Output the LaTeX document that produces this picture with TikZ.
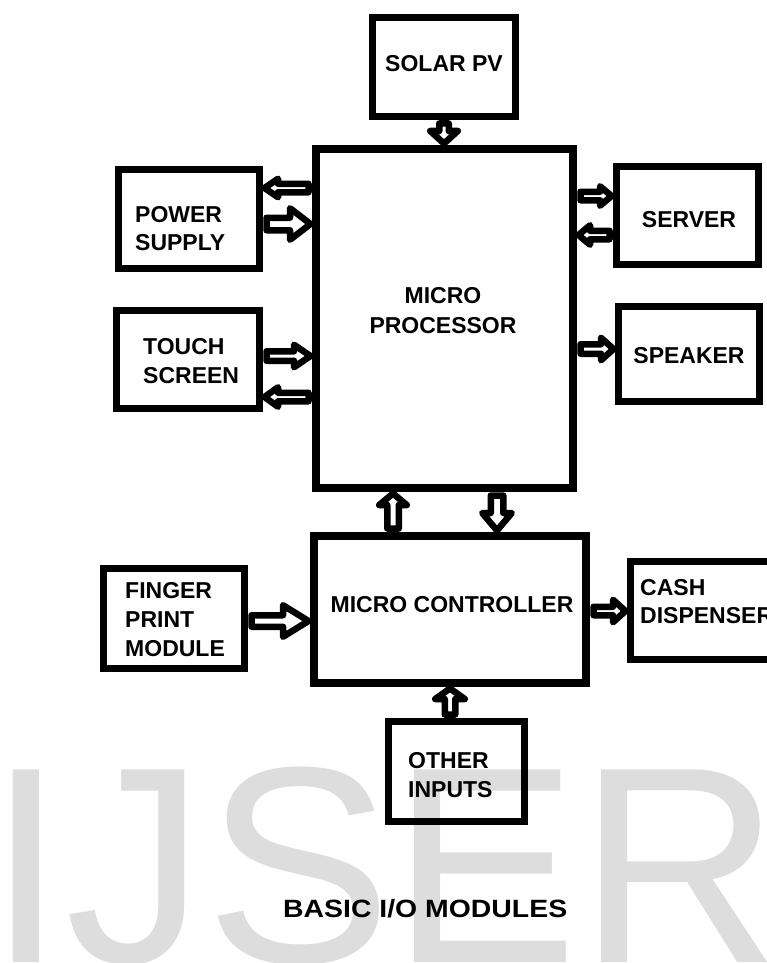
\documentclass[tikz,border=0pt]{standalone}
\usepackage{fontspec}
\setmainfont{Liberation Sans}
\usetikzlibrary{calc}
\definecolor{wm}{RGB}{221,221,221}
\tikzset{
  box/.style={draw=black, line width=7pt, inner sep=0pt},
  bigbox/.style={box, line width=8pt},
  lbl/.style={inner sep=0pt, font=\fontsize{23}{28}\selectfont\bfseries},
  blk/.style={draw=black, fill=white, line width=6.5pt, line join=round},
}
\newcommand\barrow[5]{%
  \draw[blk] let \p1=(#1), \p2=(#2),
    \n1={atan2(\y2-\y1,\x2-\x1)}, \n2={veclen(\x2-\x1,\y2-\y1)} in
    {[shift={(\p1)}, rotate=\n1]
      (3.5,{#3/2-3.25}) -- ({\n2-#5},{#3/2-3.25}) -- ({\n2-#5},{#4/2-3.25}) -- ({\n2-1.5},0)
      -- ({\n2-#5},{-(#4/2-3.25)}) -- ({\n2-#5},{-(#3/2-3.25)}) -- (3.5,{-(#3/2-3.25)}) -- cycle};}
\begin{document}
\begin{tikzpicture}[x=1pt, y=-1pt]
\useasboundingbox (0,0) rectangle (767,963);
\clip (0,0) rectangle (767,963);
\fill[white] (0,0) rectangle (767,963);
% watermark
\node[anchor=base west, inner sep=0pt, text=wm] (wmark) at (-13,962)
  {\fontsize{280}{280}\selectfont IJSER};
% boxes
\node[box, minimum width=143pt, minimum height=99pt] (solar) at (444,67) {};
\node[bigbox, minimum width=257pt, minimum height=339pt] (mp) at (444.5,318.5) {};
\node[box, minimum width=141pt, minimum height=99pt] (ps) at (189,219) {};
\node[box, minimum width=143pt, minimum height=98pt] (ts) at (188,359.5) {};
\node[box, minimum width=142pt, minimum height=98pt] (sv) at (687.5,215.5) {};
\node[box, minimum width=141pt, minimum height=95pt] (sp) at (689,354) {};
\node[bigbox, minimum width=272pt, minimum height=147pt] (mc) at (450,609.5) {};
\node[box, minimum width=141pt, minimum height=100pt] (fp) at (174,618.5) {};
\node[box, minimum width=141pt, minimum height=98pt] (cd) at (701,610.5) {};
\node[box, minimum width=136pt, minimum height=100pt] (oi) at (456.5,771.5) {};
% labels
\node[lbl, anchor=base] (tsolar) at (444,72) {SOLAR PV};
\node[lbl, anchor=base] (tmp1) at (443,303) {MICRO};
\node[lbl, anchor=base] (tmp2) at (443,333) {PROCESSOR};
\node[lbl, anchor=base west] (tps1) at (135,222) {POWER};
\node[lbl, anchor=base west] (tps2) at (135,250) {SUPPLY};
\node[lbl, anchor=base west] (tts1) at (143,354) {TOUCH};
\node[lbl, anchor=base west] (tts2) at (143,383) {SCREEN};
\node[lbl, anchor=base] (tsv) at (689,227) {SERVER};
\node[lbl, anchor=base] (tsp) at (689,363) {SPEAKER};
\node[lbl, anchor=base] (tmc) at (452,612) {MICRO CONTROLLER};
\node[lbl, anchor=base west] (tfp1) at (125,598) {FINGER};
\node[lbl, anchor=base west] (tfp2) at (125,627) {PRINT};
\node[lbl, anchor=base west] (tfp3) at (125,656) {MODULE};
\node[lbl, anchor=base west] (tcd1) at (640,595) {CASH};
\node[lbl, anchor=base west] (tcd2) at (640,623) {DISPENSER};
\node[lbl, anchor=base west] (toi1) at (408,768) {OTHER};
\node[lbl, anchor=base west] (toi2) at (408,797) {INPUTS};
\node[inner sep=0pt, anchor=base west, font=\fontsize{25}{30}\selectfont\bfseries] (title) at (283,917)
  {\scalebox{1.136}[1]{BASIC I/O MODULES}};
% block arrows
\barrow{solar.south}{solar.south |- mp.north}{16}{34}{14}
\barrow{mp.west |- 0,188}{ps.east |- 0,188}{15}{25}{15}
\barrow{ps.east |- 0,224}{mp.west |- 0,224}{19}{38}{22}
\barrow{ts.east |- 0,356}{mp.west |- 0,356}{16}{29}{18}
\barrow{mp.west |- 0,397}{ts.east |- 0,397}{15}{26}{15}
\barrow{mp.east |- 0,196}{sv.west |- 0,196}{15}{26}{13}
\barrow{sv.west |- 0,235}{mp.east |- 0,235}{15}{26}{13}
\barrow{mp.east |- 0,349}{sp.west |- 0,349}{16}{29}{14}
\barrow{mc.north -| 393,0}{mp.south -| 393,0}{18}{34}{13}
\barrow{mp.south -| 497,0}{mc.north -| 497,0}{19}{36}{19}
\barrow{fp.east |- 0,621}{mc.west |- 0,621}{18}{38}{27}
\barrow{mc.east |- 0,611}{cd.west |- 0,611}{15}{29}{14}
\barrow{oi.north -| 450,0}{mc.south -| 450,0}{17}{36}{12}
\end{tikzpicture}
\end{document}
